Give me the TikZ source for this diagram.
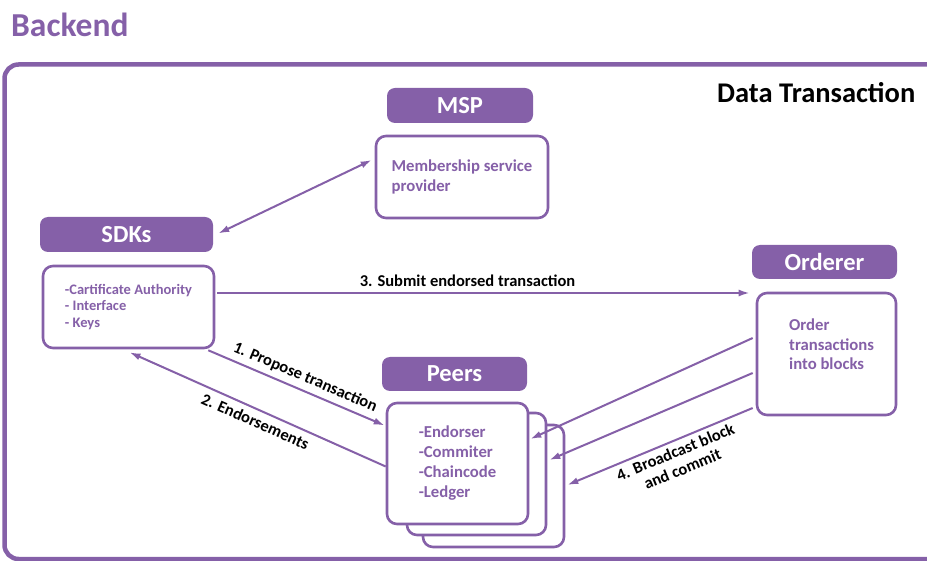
\documentclass[tikz,border=0pt]{standalone}
\usepackage{fontspec}
\setmainfont{Carlito}
\usetikzlibrary{arrows.meta,calc}
\definecolor{hlpurple}{RGB}{133,96,168}
\begin{document}
\begin{tikzpicture}[x=1pt,y=-1pt,
  >={Latex[length=11pt,width=7pt]},
  header/.style={fill=hlpurple, draw=none, rounded corners=8pt, minimum width=146pt,
    minimum height=35pt, inner sep=0pt, text=white,
    font=\fontsize{24.5}{28}\selectfont\bfseries},
  panel/.style={draw=hlpurple, line width=2.6pt, fill=white, rounded corners=10pt,
    inner sep=0pt, text=hlpurple, align=left,
    font=\fontsize{16.7}{20}\selectfont\bfseries},
  link/.style={draw=hlpurple, line width=2pt, ->},
  steplabel/.style={text=black, font=\fontsize{16.5}{18.5}\selectfont\bfseries, inner sep=2pt}
]
\useasboundingbox (0,0) rectangle (927,561);

% outer frame and titles
\draw[draw=hlpurple, line width=4.5pt, rounded corners=14pt] (4.5,64.5) rectangle (945,559);
\node[anchor=base west, inner sep=0pt, text=hlpurple,
      font=\fontsize{33.5}{38}\selectfont\bfseries] (title) at (11,37) {Backend};
\node[anchor=base west, inner sep=0pt,
      font=\fontsize{28.5}{32}\selectfont\bfseries] (dtitle) at (717,103) {Data Transaction};

% MSP
\node[header] (mspH) at (460,105.5) {MSP};
\node[panel, minimum width=172pt, minimum height=82pt] (mspB) at (462,177)
  {Membership service\\provider};

% SDKs
\node[header, minimum width=173pt] (sdkH) at (126.5,234.5) {SDKs};
\node[panel, minimum width=171pt, minimum height=82pt,
      font=\fontsize{14.5}{16.5}\selectfont\bfseries] (sdkB) at (128.5,307)
  {-Cartificate Authority\\- Interface\\- Keys};

% Orderer
\node[header, minimum width=145pt, minimum height=34pt] (ordH) at (824.5,262) {Orderer};
\node[panel, minimum width=139pt, minimum height=122pt] (ordB) at (826.5,354) {};
\node[anchor=base west, inner sep=0pt, text=hlpurple, align=left,
      font=\fontsize{16.7}{19.5}\selectfont\bfseries] (ordT) at (789,370)
  {Order\\transactions\\into blocks};

% Peers (stack of three)
\node[header, minimum width=145pt, minimum height=34pt] (peerH) at (454.5,374) {Peers};
\node[panel, minimum width=141pt, minimum height=122pt] (peer3) at (493.5,486) {};
\node[panel, minimum width=139pt, minimum height=122pt] (peer2) at (476.5,474) {};
\node[panel, minimum width=141pt, minimum height=121pt] (peer1) at (457.5,463.5)
  {-Endorser\\-Commiter\\-Chaincode\\-Ledger};

% connectors
\draw[link, <->] ($(sdkH.east)+(5,-1)$) -- ($(mspB.west)+(-3,-17)$);

\draw[link] ($(sdkB.east)+(2,-14)$) --
  node[steplabel, pos=0.47, above=3pt] (l3) {3. Submit endorsed transaction}
  ($(ordB.west)+(-6,-61)$);

\draw[link] ($(sdkB.south east)+(-7,1)$) --
  node[steplabel, pos=0.52, sloped, above=3pt] (l1) {1. Propose transaction}
  ($(peer1.west)+(-1,-38)$);

\draw[link] ($(peer1.west)+(0,3)$) --
  node[steplabel, pos=0.49, sloped, below=3pt] (l2) {2. Endorsements}
  ($(sdkB.south)+(1,3)$);

\draw[link] ($(ordB.west)+(-3,-16)$) -- ($(peer1.east)+(1,-24.5)$);
\draw[link] ($(ordB.west)+(-3,19)$) -- ($(peer2.east)+(2,-14)$);
\draw[link] ($(ordB.west)+(-3,54)$) --
  node[steplabel, pos=0.44, sloped, below=2pt, align=center] (l4)
  {4. Broadcast block\\and commit}
  ($(peer3.east)+(2,-1)$);
\end{tikzpicture}
\end{document}
